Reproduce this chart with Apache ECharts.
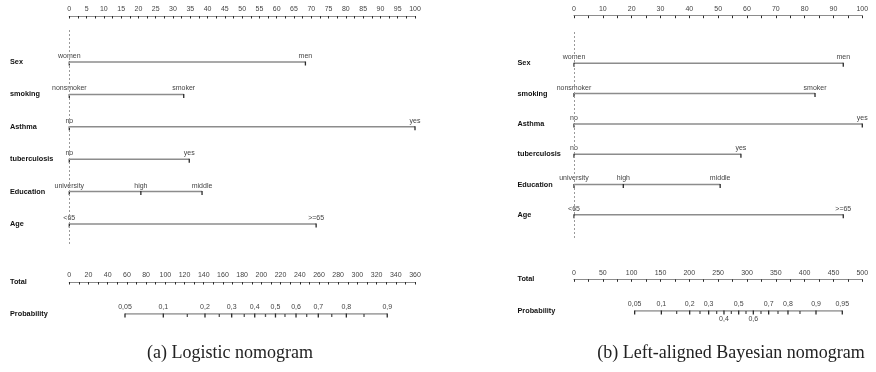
<!DOCTYPE html>
<html><head><meta charset="utf-8">
<script src="https://cdn.jsdelivr.net/npm/echarts@6/dist/echarts.min.js"></script>
<style>html,body{margin:0;padding:0;background:#fff}#c{width:876px;height:372px}</style>
</head><body><div id="c"></div>
<script>
// ---------------- DATA ----------------
const rowNames = ['Sex', 'smoking', 'Asthma', 'tuberculosis', 'Education', 'Age'];
const levelNames = [
  ['women', 'men'],
  ['nonsmoker', 'smoker'],
  ['no', 'yes'],
  ['no', 'yes'],
  ['university', 'high', 'middle'],
  ['<65', '>=65']
];
// points (0-100) for each level
const logisticPoints = [[0, 68.3], [0, 33.1], [0, 100], [0, 34.7], [0, 20.7, 38.4], [0, 71.4]];
const bayesPoints    = [[0, 93.4], [0, 83.6], [0, 100], [0, 57.9], [0, 17.1, 50.7], [0, 93.4]];
const bottomRowNames = ['Total', 'Probability'];
// probability labels and their position on the Total-points scale
const logisticProbLabels = ['0,05', '0,1', '0,2', '0,3', '0,4', '0,5', '0,6', '0,7', '0,8', '0,9'];
const logisticProbTotals = [58.0, 97.9, 141.3, 169.1, 193.1, 214.7, 236.1, 259.3, 288.5, 331.1];
const logisticProbMinorTotals = [122.9, 156.2, 182.2, 204.3, 224.6, 247.2, 273.3, 306.9];
const bayesProbLabels = ['0,05', '0,1', '0,2', '0,3', '0,4', '0,5', '0,6', '0,7', '0,8', '0,9', '0,95'];
const bayesProbTotals = [105.2, 151.5, 200.6, 233.5, 260.1, 285.6, 311.0, 337.6, 371.1, 419.7, 465.3];
const bayesProbMinorTotals = [178.0, 218.5, 247.4, 272.9, 298.3, 324.3, 353.8, 391.9];
const captions = ['(a) Logistic nomogram', '(b) Left-aligned Bayesian nomogram'];

// ---------------- LAYOUT / STYLE ----------------
const FONT = 'Liberation Sans, Arial, sans-serif';
const panels = [
  { L: 69.3, W: 345.7, topAxisY: 16, firstRowY: 62, rowStep: 32.4, dashTop: 30, dashBottom: 245,
    totalY: 282, probY: 314, pointsInterval: 5, totalMax: 360, totalInterval: 20, labelX: 10,
    points: logisticPoints, probLabels: logisticProbLabels, probTotals: logisticProbTotals,
    probMinor: logisticProbMinorTotals, below: [], caption: captions[0], captionX: 225 },
  { L: 574, W: 288.3, topAxisY: 15.7, firstRowY: 63.3, rowStep: 30.3, dashTop: 32, dashBottom: 240,
    totalY: 279.3, probY: 311, pointsInterval: 10, totalMax: 500, totalInterval: 50, labelX: 517.5,
    points: bayesPoints, probLabels: bayesProbLabels, probTotals: bayesProbTotals,
    probMinor: bayesProbMinorTotals, below: ['0,4', '0,6'], caption: captions[1], captionX: 726 }
];

const lineColor = '#8c8c8c';
const tickColor = '#2a2a2a';
const textColor = '#444';

const grid = [], xAxis = [], yAxis = [], series = [], title = [];

panels.forEach((P, pi) => {
  const gRows = pi * 2, gTot = pi * 2 + 1;
  const yMin = -(P.firstRowY - P.topAxisY) / P.rowStep;
  const yMax = (P.dashBottom - P.firstRowY) / P.rowStep;
  const dashTopVal = (P.dashTop - P.firstRowY) / P.rowStep;

  grid.push({ left: P.L, width: P.W, top: P.topAxisY, height: P.dashBottom - P.topAxisY, outerBoundsMode: 'none', containLabel: false });
  grid.push({ left: P.L, width: P.W, top: P.totalY, height: P.probY - P.totalY, outerBoundsMode: 'none', containLabel: false });

  const axisCommon = {
    type: 'value', position: 'top',
    axisLine: { show: true, onZero: false, lineStyle: { color: lineColor, width: 1.2 } },
    axisTick: { show: true, inside: true, length: 2.5, lineStyle: { color: tickColor, width: 1 } },
    minorTick: { show: true, splitNumber: 2, length: 2.5, lineStyle: { color: tickColor, width: 1 } },
    splitLine: { show: false }, minorSplitLine: { show: false },
    axisLabel: { fontSize: 7, color: textColor, fontFamily: FONT, margin: 3, showMinLabel: true, showMaxLabel: true }
  };
  xAxis.push(Object.assign({}, axisCommon, { gridIndex: gRows, min: 0, max: 100, interval: P.pointsInterval }));
  xAxis.push(Object.assign({}, axisCommon, { gridIndex: gTot, min: 0, max: P.totalMax, interval: P.totalInterval }));

  const yCommon = {
    type: 'value', inverse: true,
    axisLine: { show: false, onZero: false }, axisTick: { show: false }, splitLine: { show: false }
  };
  yAxis.push(Object.assign({}, yCommon, {
    gridIndex: gRows, min: yMin, max: yMax,
    axisLabel: { customValues: rowNames.map((_, i) => i), formatter: v => rowNames[Math.round(v)] || '',
      align: 'left', margin: P.L - P.labelX, fontSize: 7.3, fontWeight: 'bold', color: '#111', fontFamily: FONT }
  }));
  yAxis.push(Object.assign({}, yCommon, {
    gridIndex: gTot, min: 0, max: 1,
    axisLabel: { customValues: [0, 1], formatter: v => bottomRowNames[Math.round(v)] || '',
      align: 'left', margin: P.L - P.labelX, fontSize: 7.3, fontWeight: 'bold', color: '#111', fontFamily: FONT }
  }));

  const xRows = pi * 2, xTot = pi * 2 + 1;

  rowNames.forEach((name, i) => {
    const s = {
      type: 'line', xAxisIndex: xRows, yAxisIndex: gRows, silent: true, animation: false,
      data: P.points[i].map((v, j) => ({ value: [v, i], label: { formatter: levelNames[i][j] } })),
      symbol: 'rect', symbolSize: [1.3, 4], symbolOffset: [0, 1.5],
      itemStyle: { color: tickColor },
      lineStyle: { color: lineColor, width: 1.5 },
      label: { show: true, position: 'top', distance: 2, fontSize: 7, color: textColor, fontFamily: FONT },
      z: 3
    };
    if (i === 0) {
      s.markLine = {
        silent: true, symbol: 'none', animation: false, label: { show: false },
        lineStyle: { type: [2, 2], color: '#9a9a9a', width: 1 },
        data: [[{ coord: [0, dashTopVal] }, { coord: [0, yMax] }]]
      };
    }
    series.push(s);
  });

  series.push({
    type: 'line', xAxisIndex: xTot, yAxisIndex: gTot, silent: true, animation: false,
    data: P.probTotals.map((t, j) => {
      const lab = P.probLabels[j];
      const below = P.below.indexOf(lab) >= 0;
      return { value: [t, 1], label: below ? { formatter: lab, position: 'bottom', distance: 1 } : { formatter: lab } };
    }),
    symbol: 'rect', symbolSize: [1.3, 4], symbolOffset: [0, 1.5],
    itemStyle: { color: tickColor },
    lineStyle: { color: lineColor, width: 1.5 },
    label: { show: true, position: 'top', distance: 3, fontSize: 7, color: textColor, fontFamily: FONT },
    z: 3
  });
  series.push({
    type: 'scatter', xAxisIndex: xTot, yAxisIndex: gTot, silent: true, animation: false,
    data: P.probMinor.map(t => [t, 1]),
    symbol: 'rect', symbolSize: [1.3, 3], symbolOffset: [0, 1.5],
    itemStyle: { color: tickColor }, z: 4
  });

  title.push({
    text: P.caption, left: P.captionX, top: 339, textAlign: 'center',
    textStyle: { fontFamily: 'Liberation Serif, serif', fontSize: 18, fontWeight: 'normal', color: '#222' }
  });
});

const chart = echarts.init(document.getElementById('c'), null, { renderer: 'canvas' });
chart.setOption({ backgroundColor: '#fff', animation: false, title, grid, xAxis, yAxis, series });
</script>
</body></html>
